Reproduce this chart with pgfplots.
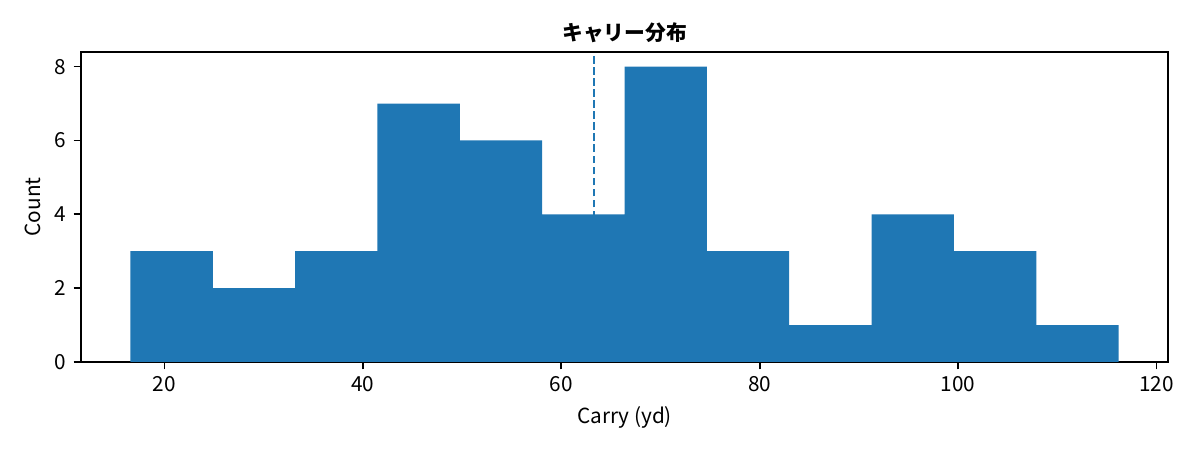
\documentclass[border=0pt]{standalone}
\usepackage{fontspec}
\setmainfont{Noto Sans CJK JP}
\usepackage{pgfplots}
\pgfplotsset{compat=1.18}
\definecolor{mplblue}{HTML}{1F77B4}
\begin{document}
\fontsize{10}{12}\selectfont
\begin{tikzpicture}
\useasboundingbox (-39.03pt,-42.4pt) rectangle (539.1pt,174.4pt);
\begin{axis}[
  at={(0,0)}, anchor=south west,
  scale only axis, width=523.7pt, height=149.4pt,
  xmin=11.59, xmax=121.15, ymin=0, ymax=8.4,
  xtick={20,40,60,80,100,120}, ytick={0,2,4,6,8},
  tick align=outside, tickwidth=3.5bp,
  xtick pos=bottom, ytick pos=left,
  axis line style={line width=0.8bp},
  major tick style={line width=0.8bp, black},
  /pgf/number format/assume math mode=true,
  ticklabel style={font=\fontsize{10}{12}\selectfont},
  title={\bfseries キャリー分布},
  title style={font=\fontsize{10}{12}\selectfont, at={(axis description cs:0.5,1)}, anchor=center, yshift=3.4pt},
  xlabel={Carry (yd)}, ylabel={Count},
  label style={font=\fontsize{10}{12}\selectfont},
  xlabel style={at={(axis description cs:0.5,0)}, anchor=center, yshift=-26.5pt},
  ylabel style={at={(axis description cs:0,0.5)}, anchor=center, rotate=0, yshift=23.1pt},
  clip mode=individual,
]
\addplot[mplblue, line width=1bp, dash pattern=on 3.7bp off 1.6bp] coordinates {(63.25,0) (63.25,8.3)};
\addplot[ybar interval, fill=mplblue, draw=none] coordinates {
(16.57,3) (24.87,2) (33.17,3) (41.47,7) (49.77,6) (58.07,4) (66.37,8) (74.67,3) (82.97,1) (91.27,4) (99.57,3) (107.87,1) (116.17,1)
};
\end{axis}
\end{tikzpicture}
\end{document}
